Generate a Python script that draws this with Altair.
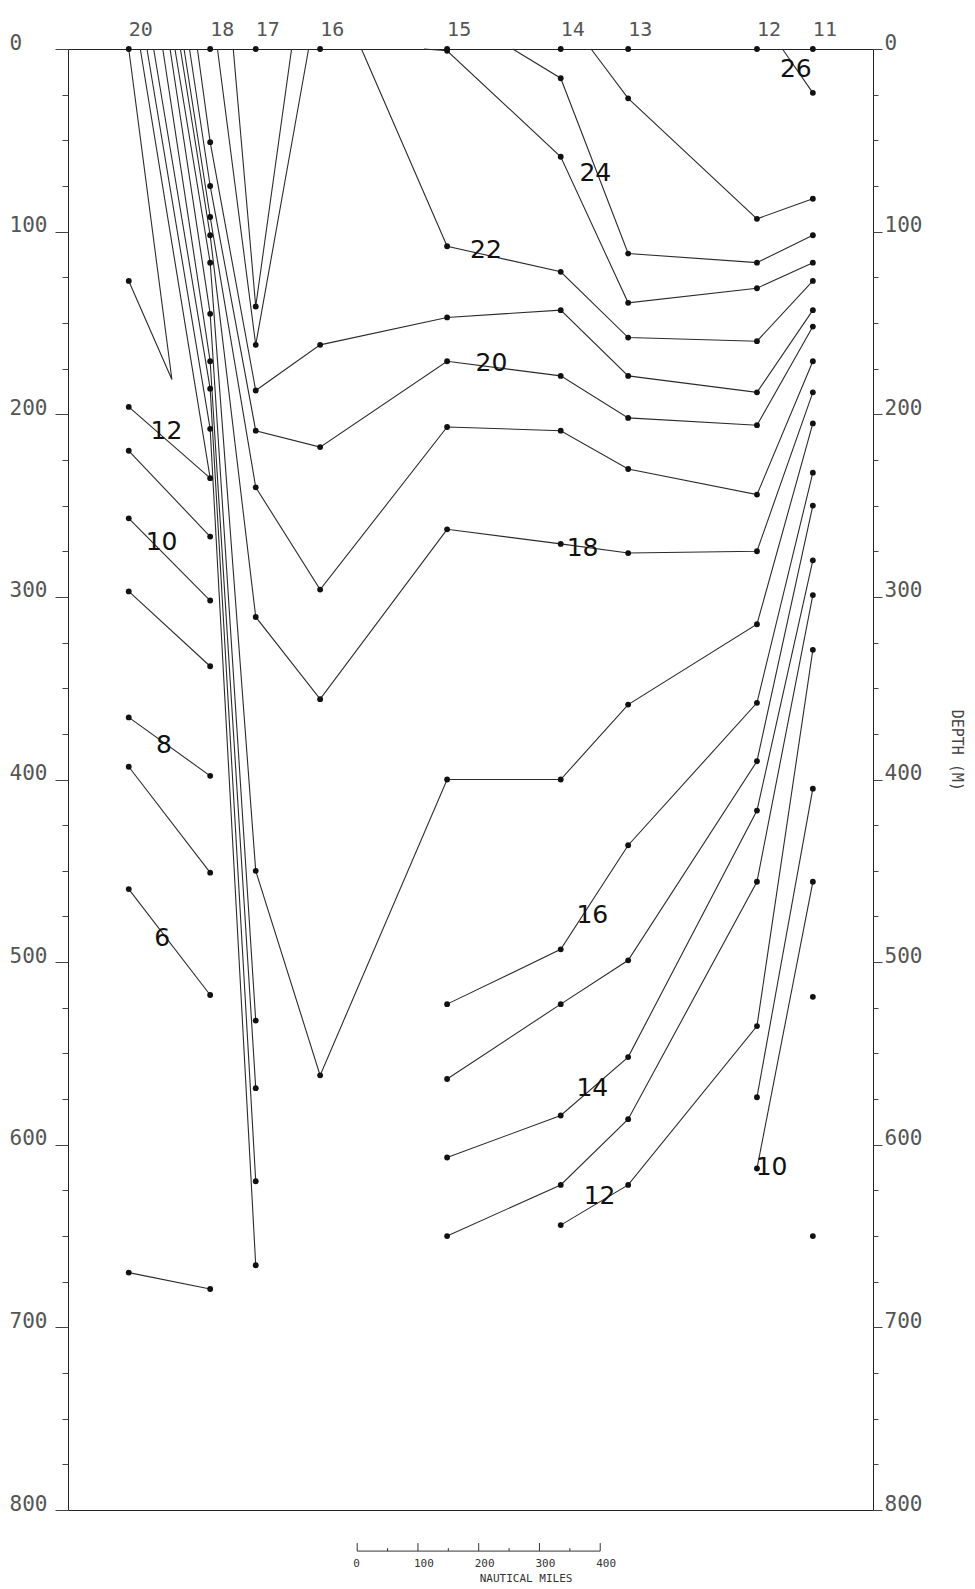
import altair as alt
import pandas as pd

# ---------------- data ----------------
# station numbers (top of section) and their along-track position (nautical miles)
station_ids = ["20", "18", "17", "16", "15", "14", "13", "12", "11"]
station_nm = [100, 234, 309, 415, 624, 811, 922, 1134, 1226]

# isotherms: vertices given as (station id, depth m) or (nautical miles, depth m) for surface outcrops
iso_26 = [(1176, 0), ("11", 24)]
iso_25 = [(861, 0), ("13", 27), ("12", 93), ("11", 82)]
iso_24 = [(732, 0), ("14", 16), ("13", 112), ("12", 117), ("11", 102)]
iso_23a = [(272, 0), ("17", 141), (368, 0)]
iso_23b = [(586, 0), ("15", 1), ("14", 59), ("13", 139), ("12", 131), ("11", 117)]
iso_22a = [(246, 0), ("17", 162), (396, 0)]
iso_22b = [(483, 0), ("15", 108), ("14", 122), ("13", 158), ("12", 160), ("11", 127)]
iso_21 = [(213, 0), ("18", 51), ("17", 187), ("16", 162), ("15", 147), ("14", 143), ("13", 179), ("12", 188), ("11", 143)]
iso_20 = [(200, 0), ("18", 75), ("17", 209), ("16", 218), ("15", 171), ("14", 179), ("13", 202), ("12", 206), ("11", 152)]
iso_19 = [(191, 0), ("18", 92), ("17", 240), ("16", 296), ("15", 207), ("14", 209), ("13", 230), ("12", 244), ("11", 171)]
iso_18 = [(185, 0), ("18", 102), ("17", 311), ("16", 356), ("15", 263), ("14", 271), ("13", 276), ("12", 275), ("11", 188)]
iso_17 = [(176, 0), ("18", 117), ("17", 450), ("16", 562), ("15", 400), ("14", 400), ("13", 359), ("12", 315), ("11", 205)]
iso_16a = [(168, 0), ("18", 145), ("17", 532)]
iso_16b = [("15", 523), ("14", 493), ("13", 436), ("12", 358), ("11", 232)]
iso_15a = [(156, 0), ("18", 171), ("17", 569)]
iso_15b = [("15", 564), ("14", 523), ("13", 499), ("12", 390), ("11", 250)]
iso_14a = [(141, 0), ("18", 186), ("17", 620)]
iso_14b = [("15", 607), ("14", 584), ("13", 552), ("12", 417), ("11", 280)]
iso_13a = [(130, 0), ("18", 208), ("17", 666)]
iso_13b = [("15", 650), ("14", 622), ("13", 586), ("12", 456), ("11", 299)]
iso_13c = [("20", 0), (171, 181), ("20", 127)]
iso_12a = [(119, 0), ("18", 235), ("20", 196)]
iso_12b = [("14", 644), ("13", 622), ("12", 535), ("11", 329)]
iso_11a = [("20", 220), ("18", 267)]
iso_11b = [("12", 574), ("11", 405)]
iso_10a = [("20", 257), ("18", 302)]
iso_10b = [("12", 613), ("11", 456)]
iso_9 = [("20", 297), ("18", 338)]
iso_8 = [("20", 366), ("18", 398)]
iso_7 = [("20", 393), ("18", 451)]
iso_6 = [("20", 460), ("18", 518)]
iso_5 = [("20", 670), ("18", 679)]

isotherms = {
    "26": iso_26, "25": iso_25, "24": iso_24, "23a": iso_23a, "23b": iso_23b,
    "22a": iso_22a, "22b": iso_22b, "21": iso_21, "20": iso_20, "19": iso_19,
    "18": iso_18, "17": iso_17, "16a": iso_16a, "16b": iso_16b, "15a": iso_15a,
    "15b": iso_15b, "14a": iso_14a, "14b": iso_14b, "13a": iso_13a, "13b": iso_13b,
    "13c": iso_13c, "12a": iso_12a, "12b": iso_12b, "11a": iso_11a, "11b": iso_11b,
    "10a": iso_10a, "10b": iso_10b, "9": iso_9, "8": iso_8, "7": iso_7, "6": iso_6,
    "5": iso_5,
}

# observations without a drawn connection (station 11, deep)
loose_station = ["11", "11"]
loose_depth = [519, 650]

# isotherm labels
label_text = ["26", "24", "22", "20", "18", "16", "14", "12", "10", "12", "10", "8", "6"]
label_nm = [1198, 868, 688, 697, 847, 863, 863, 875, 1158, 162, 154, 158, 155]
label_depth = [11, 68, 110, 172, 273, 474, 569, 628, 612, 209, 270, 381, 487]

# scale bar (nautical miles)
scale_ticks = [0, 50, 100, 150, 200, 250, 300, 350, 400]
scale_labels = [0, 100, 200, 300, 400]
scale_origin_nm = 476
scale_depth = 822.5

# ---------------- tables ----------------
S = dict(zip(station_ids, station_nm))
line_rows, dot_rows = [], []
for name, pts in isotherms.items():
    for i, (p, d) in enumerate(pts):
        x = S[p] if isinstance(p, str) else p
        line_rows.append({"line": name, "order": i, "nm": x, "depth": d})
        if isinstance(p, str) and d > 0:
            dot_rows.append({"nm": x, "depth": d})
for sid, nm in zip(station_ids, station_nm):
    dot_rows.append({"nm": nm, "depth": 0})
for sid, d in zip(loose_station, loose_depth):
    dot_rows.append({"nm": S[sid], "depth": d})

lines_df = pd.DataFrame(line_rows)
dots_df = pd.DataFrame(dot_rows)
stations_df = pd.DataFrame({"id": station_ids, "nm": station_nm, "depth": 0})
labels_df = pd.DataFrame({"t": label_text, "nm": label_nm, "depth": label_depth})
ticks_df = pd.DataFrame({
    "nm": [scale_origin_nm + t for t in scale_ticks],
    "y": scale_depth,
    "y2": [scale_depth - (4.4 if t % 100 == 0 else 1.6) for t in scale_ticks],
})
slab_df = pd.DataFrame({"nm": [scale_origin_nm + t for t in scale_labels],
                        "t": [str(t) for t in scale_labels], "depth": scale_depth + 7.3})
bar_df = pd.DataFrame({"nm": [scale_origin_nm], "nm2": [scale_origin_nm + 400], "depth": [scale_depth]})

# ---------------- chart ----------------
xs = alt.Scale(domain=[0, 1325], nice=False, zero=False)
ys = alt.Scale(domain=[0, 800], reverse=True, nice=False, zero=False)
tick_vals = list(range(0, 801, 25))
lab_expr = "datum.value % 100 === 0 ? datum.label : ''"
MONO = "DejaVu Sans Mono"

left_axis = alt.Axis(orient="left", values=tick_vals, labelExpr=lab_expr, title=None,
                     domain=False, grid=False, tickColor="#444",
                     tickSize={"condition": {"test": "datum.value % 100 === 0", "value": 13}, "value": 6},
                     labelFont=MONO, labelFontSize=21, labelColor="#555", labelAlign="left",
                     labelBaseline="alphabetic", labelPadding=46, labelOverlap=False, labelFlush=False)
right_axis = alt.Axis(orient="right", values=tick_vals, labelExpr=lab_expr, title=None,
                      domain=False, grid=False, tickColor="#444",
                      tickSize={"condition": {"test": "datum.value % 100 === 0", "value": 9}, "value": 5},
                      labelFont=MONO, labelFontSize=21, labelColor="#555", labelAlign="left",
                      labelBaseline="alphabetic", labelPadding=2, labelOverlap=False, labelFlush=False)

X = alt.X("nm:Q", scale=xs, axis=None)

lines = alt.Chart(lines_df).mark_line(color="#2b2b2b", strokeWidth=1.1).encode(
    x=X, y=alt.Y("depth:Q", scale=ys, axis=left_axis), detail="line:N", order="order:Q")
dots = alt.Chart(dots_df).mark_circle(size=34, color="#111", opacity=1).encode(
    x=X, y=alt.Y("depth:Q", scale=ys, axis=right_axis))
stn = alt.Chart(stations_df).mark_text(font=MONO, fontSize=20, color="#555", align="left",
                                        baseline="alphabetic", dy=-13, dx=0).encode(
    x=X, y=alt.Y("depth:Q", scale=ys, axis=None), text="id:N")
labs = alt.Chart(labels_df).mark_text(font="DejaVu Sans", fontSize=25, color="#111",
                                      align="center", baseline="middle").encode(
    x=X, y=alt.Y("depth:Q", scale=ys, axis=None), text="t:N")
bar = alt.Chart(bar_df).mark_rule(color="#333", strokeWidth=1).encode(
    x=X, x2="nm2:Q", y=alt.Y("depth:Q", scale=ys, axis=None))
ticks = alt.Chart(ticks_df).mark_rule(color="#333", strokeWidth=1).encode(
    x=X, y=alt.Y("y:Q", scale=ys, axis=None), y2="y2:Q")
slabs = alt.Chart(slab_df).mark_text(font=MONO, fontSize=11, color="#333", align="left",
                                     baseline="middle", dx=-4).encode(
    x=X, y=alt.Y("depth:Q", scale=ys, axis=None), text="t:N")
nm_title = alt.Chart(pd.DataFrame({"nm": [754], "depth": [scale_depth + 15.2], "t": ["NAUTICAL MILES"]})).mark_text(
    font=MONO, fontSize=11, color="#333", align="center", baseline="middle").encode(
    x=X, y=alt.Y("depth:Q", scale=ys, axis=None), text="t:N")
dtitle = alt.Chart(pd.DataFrame({"nm": [1463], "depth": [384], "t": ["DEPTH (M)"]})).mark_text(
    font=MONO, fontSize=15, color="#444", align="center", baseline="middle", angle=90).encode(
    x=X, y=alt.Y("depth:Q", scale=ys, axis=None), text="t:N")

chart = alt.layer(lines, dots, stn, labs, bar, ticks, slabs, nm_title, dtitle).resolve_axis(
    y="independent").properties(
    width=805, height=1461,
    padding={"left": 60, "top": 41, "right": 94, "bottom": 75},
    autosize=alt.AutoSizeParams(type="none"),
).configure_view(stroke="#222", strokeWidth=1)

chart.save("out.html", embed_options={"renderer": "svg", "actions": False})
